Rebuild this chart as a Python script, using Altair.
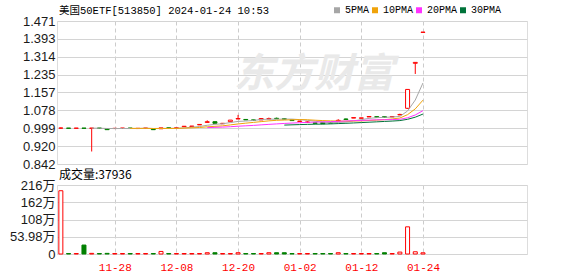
import altair as alt
import pandas as pd

dates = ["11-17","11-20","11-21","11-22","11-23","11-24","11-27","11-28","11-29","11-30",
         "12-01","12-04","12-05","12-06","12-07","12-08","12-11","12-12","12-13","12-14",
         "12-15","12-18","12-19","12-20","12-21","12-22","12-25","12-26","12-27","12-28",
         "12-29","01-02","01-03","01-04","01-05","01-08","01-09","01-10","01-11","01-12",
         "01-15","01-16","01-17","01-18","01-19","01-22","01-23","01-24"]
opens = [1.000,1.000,0.999,1.000,0.999,1.000,0.997,0.998,0.999,1.000,
         0.998,0.999,0.995,0.997,1.001,1.000,1.006,1.007,1.014,1.025,
         1.028,1.019,1.028,1.040,1.038,1.036,1.036,1.040,1.043,1.041,
         1.036,1.029,1.025,1.023,1.025,1.024,1.031,1.040,1.044,1.043,
         1.049,1.050,1.050,1.049,1.058,1.087,1.285,1.421]
closes = [1.000,0.999,1.000,0.999,1.000,0.999,0.993,0.999,1.000,0.999,
          0.999,1.000,0.993,1.001,1.000,1.001,1.008,1.009,1.016,1.028,
          1.021,1.021,1.035,1.042,1.036,1.034,1.042,1.042,1.041,1.039,
          1.033,1.031,1.027,1.021,1.019,1.022,1.034,1.038,1.046,1.045,
          1.051,1.048,1.047,1.051,1.060,1.170,1.289,1.422]
highs = [1.002,1.000,1.000,1.000,1.000,1.000,0.997,0.999,1.000,1.000,
         0.999,1.000,0.995,1.001,1.001,1.001,1.008,1.009,1.016,1.034,
         1.028,1.021,1.035,1.058,1.038,1.036,1.042,1.046,1.046,1.043,
         1.036,1.031,1.030,1.023,1.025,1.024,1.039,1.042,1.046,1.045,
         1.051,1.050,1.050,1.051,1.063,1.170,1.289,1.422]
lows = [0.998,0.999,0.999,0.999,0.897,0.999,0.992,0.998,0.999,0.999,
        0.998,0.999,0.993,0.997,1.000,1.000,1.006,1.007,1.014,1.025,
        1.021,1.019,1.028,1.040,1.036,1.034,1.036,1.040,1.041,1.039,
        1.033,1.029,1.025,1.021,1.019,1.022,1.031,1.038,1.044,1.043,
        1.049,1.048,1.047,1.049,1.057,1.085,1.238,1.421]
volumes_wan = [198,1.5,1.5,28,2,1.5,2,1.5,1.5,1.5,
               1.5,1.5,1.5,8,1.5,1.5,1.5,1.5,1.5,4,
               4,1.5,1.5,4,1.5,1.5,1.5,4,4,4,
               1.5,1.5,1.5,1.5,1.5,1.5,4,1.5,1.5,1.5,
               1.5,1.5,4,1.5,6,85,7,3.7936]

date_tick_idx = [7, 15, 23, 31, 39, 47]
price_ticks = [0.842, 0.920, 0.999, 1.078, 1.157, 1.235, 1.314, 1.393, 1.471]
vol_ticks = [0, 53.98, 107.96, 161.94, 215.92]
ma_names = ["5PMA", "10PMA", "20PMA", "30PMA"]
ma_lengths = [5, 10, 20, 30]
ma_colors = ["#a6a6a6", "#f0a30a", "#ff33ff", "#00733a"]

title_text = "美国50ETF[513850] 2024-01-24 10:53"
vol_title = "成交量:37936"

RED = "#ff0000"
GREEN = "#008000"
MONO = "Liberation Mono, Noto Sans CJK SC"
SANS = "Liberation Sans, Noto Sans CJK SC"

df = pd.DataFrame({
    "i": list(range(len(dates))),
    "date": dates,
    "open": opens,
    "close": closes,
    "high": highs,
    "low": lows,
    "vol": volumes_wan,
})

xscale = alt.Scale(domain=[-0.5, 60.5], nice=False, zero=False, padding=0)
yscale = alt.Scale(domain=[price_ticks[0], price_ticks[-1]], nice=False, zero=False)

x_main = alt.X("i:Q", scale=xscale, title=None,
               axis=alt.Axis(values=date_tick_idx, labels=False, ticks=False, domain=False,
                             grid=True, gridDash=[4, 3], gridColor="#cccccc"))
yaxis = alt.Axis(values=price_ticks, format=".3f", grid=True, gridColor="#d4d4d4",
                 domain=False, ticks=False, labelFont=SANS, labelFontSize=13,
                 labelColor="#1a1a1a", labelPadding=2, labelOverlap=False)
up = "datum.close >= datum.open"

base = alt.Chart(df)

wick = base.mark_rule(strokeWidth=1).encode(
    x=x_main,
    y=alt.Y("low:Q", scale=yscale, title=None, axis=yaxis),
    y2="high:Q",
    color=alt.condition(up, alt.value(RED), alt.value(GREEN)),
)

body = base.mark_bar(size=4, strokeWidth=1).encode(
    x=x_main,
    y=alt.Y("open:Q", scale=yscale, title=None, axis=yaxis),
    y2="close:Q",
    fill=alt.condition(up, alt.value("white"), alt.value(GREEN)),
    stroke=alt.condition(up, alt.value(RED), alt.value(GREEN)),
)

color_scale = alt.Scale(domain=ma_names, range=ma_colors)
ma_layers = []
for n, name in zip(ma_lengths, ma_names):
    ma_layers.append(
        base.transform_window(ma="mean(close)", frame=[-(n - 1), 0], sort=[alt.SortField("i")])
        .transform_filter(f"datum.i >= {n - 1}")
        .transform_calculate(name=f"'{name}'")
        .mark_line(strokeWidth=1)
        .encode(
            x=x_main,
            y=alt.Y("ma:Q", scale=yscale, title=None, axis=yaxis),
            color=alt.Color("name:N", scale=color_scale,
                            legend=alt.Legend(title=None, orient="none", legendX=275, legendY=-16,
                                              direction="horizontal", symbolType="square",
                                              symbolSize=9, symbolStrokeWidth=3,
                                              labelFont=MONO, labelFontSize=10, labelColor="#000",
                                              columnPadding=-4, labelOffset=3, padding=0)),
        )
    )

watermark = alt.Chart(pd.DataFrame({"t": ["东方财富"]})).mark_text(
    fontSize=40, fontWeight="bold", fontStyle="italic", color="#e9e9e9",
    font="Noto Sans CJK SC", align="center", baseline="middle"
).encode(x=alt.value(257), y=alt.value(54), text="t:N")

main = alt.layer(watermark, wick, body, *ma_layers).properties(
    width=470, height=143,
    title=alt.TitleParams(title_text, anchor="start", frame="group", font=MONO, fontSize=10.5,
                          fontWeight="normal", color="#000", offset=-1, dx=2),
)

vol = base.mark_bar(size=4, strokeWidth=1).encode(
    x=alt.X("i:Q", scale=xscale, title=None,
            axis=alt.Axis(values=date_tick_idx, ticks=False, domain=False, grid=True,
                          gridDash=[4, 3], gridColor="#cccccc",
                          labelExpr="[" + ",".join(f"'{d}'" for d in dates) + "][datum.value]",
                          labelFont=MONO, labelFontSize=11, labelColor=RED, labelPadding=7)),
    y=alt.Y("vol:Q", scale=alt.Scale(domain=[0, vol_ticks[-1]], nice=False), title=None,
            axis=alt.Axis(values=vol_ticks, grid=True, gridColor="#d4d4d4", domain=False,
                          ticks=False, labelFont=SANS, labelFontSize=13, labelColor="#1a1a1a",
                          labelPadding=2, labelOverlap=False,
                          labelExpr="datum.value == 0 ? '0' : (datum.value < 100 ? format(datum.value, '.2f') : format(datum.value, '.0f')) + '万'")),
    fill=alt.condition(up, alt.value("white"), alt.value(GREEN)),
    stroke=alt.condition(up, alt.value(RED), alt.value(GREEN)),
).properties(
    width=470, height=69,
    title=alt.TitleParams(vol_title, anchor="start", frame="group", font="Noto Sans CJK SC",
                          fontSize=12, fontWeight="normal", color="#000", offset=-3, dx=2),
)

chart = alt.vconcat(main, vol, spacing=21, bounds="flush").properties(
    padding={"left": 8, "top": 5, "right": 0, "bottom": 0}
).configure_view(stroke="#999999", strokeWidth=1).configure(background="white")

chart.save("out.html", embed_options={"renderer": "svg", "actions": False})
